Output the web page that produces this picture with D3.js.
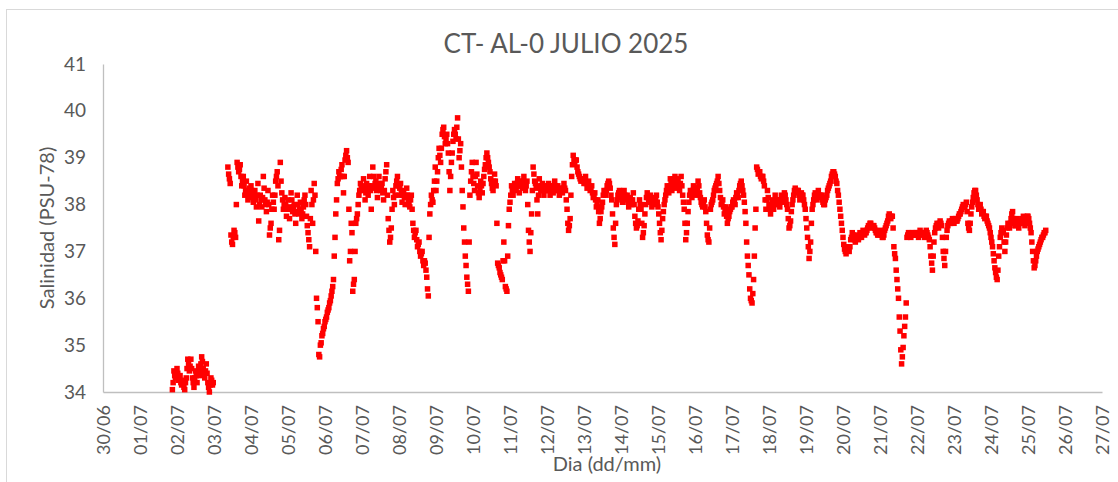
<!DOCTYPE html>
<html>
<head>
<meta charset="utf-8">
<script src="https://cdn.jsdelivr.net/npm/d3@7"></script>
<style>
  body { margin: 0; background: #fff; }
  svg { display: block; }
  text { font-family: Lato, "Open Sans", sans-serif; }
</style>
</head>
<body>
<div id="chart"></div>
<script>
// half-hourly salinity readings (PSU-78), one array per day of July 2025
const jul01 = [34.05, 34.2, 34.45, 34.35, 34.3, 34.4]; // from 21:00
const jul02 = [34.5, 34.4, 34.25, 34.3, 34.35, 34.2, 34.15, 34.25, 34.2, 34.1, 34.05, 34.2, 34.3, 34.5, 34.7, 34.6, 34.45, 34.55, 34.7, 34.5, 34.3, 34.2, 34.1, 34.3,
               34.45, 34.35, 34.2, 34.4, 34.55, 34.45, 34.35, 34.6, 34.75, 34.65, 34.5, 34.4, 34.3, 34.45, 34.6, 34.4, 34.2, 34.1, 34.0, 34.15, 34.3, 34.25, 34.15, 34.2];
const jul03 = [38.8, 38.65, 38.55, 38.45, 37.35, 37.2, 37.15, 37.3, 37.45, 37.4, 37.3, 38.0, 38.9, 38.8, 38.7, 38.75, 38.85, 38.6, 38.4, 38.5, 38.6, 38.4, 38.2, 38.3,
               38.5, 38.3, 38.1, 38.2, 38.35, 38.25]; // from 09:00
const jul04 = [38.4, 38.3, 38.15, 38.05, 38.2, 38.3, 38.1, 37.95, 38.2, 38.45, 37.65, 38.0, 38.2, 38.1, 37.95, 38.15, 38.6, 38.35, 38.1, 38.0, 37.85, 38.05, 38.3, 38.0,
               37.35, 37.5, 37.6, 37.9, 38.2, 38.05, 37.9, 38.2, 38.5, 38.6, 38.7, 38.4, 37.25, 37.45, 38.9, 38.5, 38.25, 38.1, 37.9, 38.0, 38.15, 38.0, 37.75, 37.9];
const jul05 = [38.1, 37.9, 37.7, 37.95, 38.25, 38.1, 37.85, 37.95, 38.0, 37.8, 37.6, 37.85, 38.2, 38.0, 37.8, 37.9, 38.05, 37.85, 37.7, 37.8, 37.95, 38.1, 38.2, 38.0,
               37.75, 37.55, 37.4, 37.25, 37.1, 37.7, 38.3, 38.0, 37.6, 38.1, 38.45, 38.2, 37.0, 36.0, 35.8, 35.5, 34.8, 34.75, 35.0, 35.05, 35.2, 35.25, 35.35, 35.4];
const jul06 = [35.5, 35.55, 35.6, 35.7, 35.75, 35.8, 35.9, 35.95, 36.05, 36.15, 36.25, 36.4, 36.9, 37.3, 37.8, 38.1, 38.45, 38.55, 38.7, 38.6, 38.6, 38.75, 38.85, 38.6,
               38.25, 38.6, 38.95, 39.05, 39.15, 39.0, 38.9, 37.9, 36.8, 37.0, 37.6, 37.4, 36.15, 36.3, 36.4, 37.0, 37.6, 37.7, 37.8, 38.0, 38.2, 38.3, 38.45, 38.35];
const jul07 = [38.3, 38.4, 38.55, 38.35, 38.1, 38.25, 38.45, 38.35, 38.2, 38.4, 38.6, 38.3, 37.9, 38.4, 38.8, 38.6, 38.35, 38.45, 38.5, 38.3, 38.15, 38.35, 38.6, 38.45,
               38.3, 38.4, 38.45, 38.25, 38.1, 38.3, 38.55, 38.7, 38.85, 38.2, 37.7, 37.45, 37.2, 37.3, 37.5, 37.9, 38.3, 38.15, 38.0, 38.2, 38.4, 38.5, 38.6, 38.4];
const jul08 = [38.2, 38.35, 38.45, 38.25, 38.05, 38.2, 38.3, 38.15, 38.0, 38.2, 38.35, 38.2, 38.1, 38.0, 37.95, 38.1, 38.2, 37.9, 37.6, 37.45, 37.3, 37.4, 37.45, 37.25,
               37.1, 37.15, 37.2, 37.0, 36.9, 36.95, 37.0, 36.8, 36.7, 36.8, 36.75, 36.6, 36.45, 36.2, 36.05, 37.3, 37.8, 38.0, 38.2, 38.1, 38.05, 38.3, 38.5, 38.8];
const jul09 = [38.3, 38.5, 38.7, 39.0, 39.2, 39.05, 38.9, 39.2, 39.5, 39.6, 39.65, 39.45, 39.3, 39.4, 39.5, 39.3, 39.1, 38.7, 38.3, 38.6, 38.9, 39.1, 39.35, 39.5,
               39.6, 39.5, 39.4, 39.65, 39.85, 39.4, 39.0, 39.15, 39.3, 38.8, 38.3, 37.95, 37.5, 37.2, 36.9, 36.7, 36.45, 36.3, 36.15, 37.2, 38.2, 38.5, 38.7, 38.9];
const jul10 = [38.6, 38.45, 38.3, 38.6, 38.9, 38.65, 38.4, 38.25, 38.15, 38.3, 38.5, 38.4, 38.25, 38.45, 38.6, 38.75, 38.85, 39.0, 39.1, 39.0, 38.9, 38.8, 38.7, 38.55,
               38.45, 38.35, 38.3, 38.5, 38.65, 38.5, 38.4, 37.6, 36.75, 36.7, 36.65, 36.55, 36.5, 36.45, 36.4, 36.8, 37.2, 36.8, 36.25, 36.2, 36.15, 36.9, 37.55, 37.9];
const jul11 = [38.05, 38.2, 38.4, 38.3, 38.2, 38.35, 38.45, 38.35, 38.3, 38.45, 38.55, 38.4, 38.25, 38.4, 38.5, 38.4, 38.35, 38.5, 38.6, 38.45, 38.3, 38.4, 38.5, 38.0,
               37.45, 37.2, 37.0, 37.4, 37.8, 38.3, 38.8, 38.65, 38.5, 38.45, 38.35, 38.1, 37.8, 38.2, 38.55, 38.4, 38.3, 38.4, 38.45, 38.3, 38.2, 38.3, 38.4, 38.35];
const jul12 = [38.3, 38.4, 38.45, 38.3, 38.2, 38.3, 38.4, 38.3, 38.25, 38.4, 38.5, 38.4, 38.3, 38.35, 38.4, 38.3, 38.2, 38.3, 38.35, 38.3, 38.25, 38.35, 38.45, 38.35,
               38.3, 38.1, 37.9, 37.6, 37.45, 37.55, 37.7, 38.2, 38.6, 38.85, 39.05, 38.95, 38.9, 38.95, 38.95, 38.8, 38.7, 38.65, 38.6, 38.55, 38.5, 38.55, 38.55, 38.5];
const jul13 = [38.45, 38.55, 38.6, 38.45, 38.35, 38.45, 38.5, 38.4, 38.3, 38.35, 38.4, 38.25, 38.15, 38.2, 38.25, 38.1, 37.95, 38.05, 38.1, 37.85, 37.6, 37.7, 37.85, 37.95,
               38.05, 38.2, 38.3, 38.25, 38.2, 38.3, 38.4, 38.45, 38.5, 38.45, 38.35, 38.2, 38.1, 37.8, 37.5, 37.3, 37.15, 37.6, 38.0, 38.1, 38.2, 38.25, 38.3, 38.2];
const jul14 = [38.25, 38.15, 38.05, 38.2, 38.3, 38.2, 38.1, 38.15, 38.2, 38.05, 37.95, 38.05, 38.15, 38.1, 38.0, 38.1, 38.25, 38.0, 37.75, 37.6, 37.5, 37.55, 37.65, 37.9,
               38.1, 38.0, 37.9, 37.6, 37.3, 37.4, 37.55, 37.8, 38.0, 38.15, 38.25, 38.15, 38.05, 38.1, 38.2, 38.1, 37.95, 38.05, 38.15, 38.05, 38.0, 38.1, 38.2, 38.05];
const jul15 = [37.95, 37.8, 37.6, 37.4, 37.25, 37.45, 37.7, 37.85, 38.0, 38.1, 38.2, 38.3, 38.4, 38.3, 38.25, 38.4, 38.55, 38.45, 38.3, 38.4, 38.45, 38.55, 38.6, 38.45,
               38.35, 38.45, 38.55, 38.4, 38.3, 38.45, 38.6, 38.4, 38.2, 38.05, 37.9, 37.6, 37.25, 37.4, 37.6, 37.85, 38.05, 38.2, 38.3, 38.2, 38.15, 38.3, 38.4, 38.35];
const jul16 = [38.3, 38.25, 38.2, 38.35, 38.5, 38.4, 38.25, 38.15, 38.05, 38.0, 37.95, 38.05, 38.1, 37.95, 37.85, 37.6, 37.35, 37.25, 37.2, 37.5, 37.9, 38.0, 38.05, 38.1,
               38.2, 38.3, 38.35, 38.4, 38.45, 38.5, 38.6, 38.45, 38.3, 38.15, 38.0, 38.05, 38.1, 37.95, 37.8, 37.9, 37.95, 37.75, 37.6, 37.7, 37.75, 37.85, 37.9, 37.95];
const jul17 = [37.95, 38.05, 38.1, 38.05, 38.0, 38.15, 38.25, 38.2, 38.15, 38.3, 38.4, 38.45, 38.5, 38.4, 38.3, 38.2, 38.05, 37.85, 37.6, 37.2, 36.9, 36.7, 36.5, 36.2,
               36.0, 35.95, 35.9, 36.1, 36.4, 36.9, 37.5, 37.9, 38.8, 38.75, 38.65, 38.7, 38.7, 38.6, 38.55, 38.6, 38.6, 38.5, 38.4, 38.1, 37.9, 38.1, 38.3, 38.15];
const jul18 = [38.0, 37.9, 37.8, 37.95, 38.1, 38.0, 37.9, 38.05, 38.2, 38.1, 38.0, 38.05, 38.1, 38.0, 37.95, 38.1, 38.2, 38.1, 38.05, 38.15, 38.25, 38.2, 38.1, 38.0,
               37.9, 37.7, 37.5, 37.55, 37.65, 37.85, 38.0, 38.1, 38.2, 38.3, 38.35, 38.3, 38.25, 38.3, 38.3, 38.2, 38.1, 38.2, 38.25, 38.2, 38.2, 38.1, 38.0, 37.9];
const jul19 = [37.7, 37.5, 37.3, 37.1, 36.85, 37.0, 37.2, 37.6, 37.9, 38.0, 38.1, 38.2, 38.25, 38.15, 38.1, 38.2, 38.3, 38.2, 38.15, 38.2, 38.2, 38.1, 38.05, 38.0,
               38.0, 38.1, 38.15, 38.2, 38.3, 38.35, 38.4, 38.45, 38.5, 38.6, 38.65, 38.7, 38.7, 38.65, 38.6, 38.5, 38.45, 38.3, 38.2, 38.05, 37.9, 37.75, 37.6, 37.45];
const jul20 = [37.3, 37.15, 37.05, 37.0, 36.95, 37.05, 37.1, 37.05, 37.0, 37.1, 37.25, 37.3, 37.4, 37.35, 37.3, 37.25, 37.2, 37.3, 37.35, 37.3, 37.25, 37.3, 37.4, 37.35,
               37.3, 37.4, 37.45, 37.4, 37.35, 37.4, 37.4, 37.45, 37.5, 37.55, 37.55, 37.6, 37.6, 37.55, 37.5, 37.55, 37.55, 37.5, 37.45, 37.4, 37.4, 37.35, 37.35, 37.4];
const jul21 = [37.45, 37.4, 37.35, 37.3, 37.3, 37.35, 37.45, 37.5, 37.55, 37.6, 37.65, 37.75, 37.8, 37.75, 37.7, 37.75, 37.75, 37.5, 37.1, 36.95, 36.85, 36.6, 36.4, 36.2,
               36.0, 35.6, 35.3, 34.9, 34.6, 34.75, 34.95, 35.2, 35.4, 35.6, 35.9, 37.3, 37.35, 37.4, 37.4, 37.35, 37.3, 37.35, 37.4, 37.35, 37.35, 37.4, 37.4, 37.35];
const jul22 = [37.4, 37.35, 37.3, 37.4, 37.45, 37.4, 37.35, 37.4, 37.4, 37.35, 37.3, 37.4, 37.45, 37.4, 37.35, 37.3, 37.25, 37.1, 36.9, 36.75, 36.6, 36.9, 37.2, 37.4,
               37.5, 37.55, 37.6, 37.55, 37.5, 37.6, 37.65, 37.6, 37.55, 37.3, 37.0, 36.85, 36.7, 37.0, 37.3, 37.45, 37.55, 37.6, 37.65, 37.6, 37.6, 37.65, 37.7, 37.65];
const jul23 = [37.6, 37.65, 37.7, 37.65, 37.65, 37.7, 37.75, 37.8, 37.8, 37.85, 37.9, 37.95, 38.0, 37.95, 37.95, 38.0, 38.05, 37.85, 37.6, 37.5, 37.45, 37.6, 37.8, 37.95,
               38.05, 38.15, 38.25, 38.3, 38.3, 38.2, 38.1, 38.0, 37.9, 37.95, 38.0, 37.9, 37.8, 37.85, 37.85, 37.75, 37.7, 37.75, 37.75, 37.65, 37.6, 37.55, 37.5, 37.4];
const jul24 = [37.3, 37.2, 37.1, 36.95, 36.8, 36.65, 36.55, 36.45, 36.4, 36.6, 36.9, 37.1, 37.3, 37.4, 37.5, 37.45, 37.4, 37.2, 37.0, 37.2, 37.35, 37.5, 37.6, 37.55,
               37.5, 37.6, 37.7, 37.8, 37.85, 37.7, 37.6, 37.55, 37.55, 37.65, 37.7, 37.6, 37.5, 37.6, 37.65, 37.6, 37.6, 37.7, 37.75, 37.65, 37.55, 37.65, 37.7, 37.75];
const jul25 = [37.75, 37.7, 37.6, 37.5, 37.4, 37.2, 37.0, 36.8, 36.65, 36.7, 36.8, 36.9, 37.0, 37.05, 37.1, 37.15, 37.2, 37.25, 37.3, 37.3, 37.35, 37.4, 37.4, 37.45];

// day of month, first hour, readings (30 min apart)
const days = [
  [1, 21, jul01], [2, 0, jul02], [3, 9, jul03], [4, 0, jul04], [5, 0, jul05],
  [6, 0, jul06], [7, 0, jul07], [8, 0, jul08], [9, 0, jul09], [10, 0, jul10],
  [11, 0, jul11], [12, 0, jul12], [13, 0, jul13], [14, 0, jul14], [15, 0, jul15],
  [16, 0, jul16], [17, 0, jul17], [18, 0, jul18], [19, 0, jul19], [20, 0, jul20],
  [21, 0, jul21], [22, 0, jul22], [23, 0, jul23], [24, 0, jul24], [25, 0, jul25]
];

const yTicks = [34, 35, 36, 37, 38, 39, 40, 41];
const title = "CT- AL-0 JULIO 2025";
const yTitle = "Salinidad (PSU-78)";
const xTitle = "Dia (dd/mm)";

const width = 1118;
const height = 482;
const grey = "#595959";

const points = days.flatMap(([d, h0, vals]) =>
  vals.map((v, i) => ({ t: new Date(2025, 6, d, h0, i * 30), v })));

const svg = d3.select("#chart")
  .append("svg")
  .attr("width", width)
  .attr("height", height);

// chart border
svg.append("rect")
  .attr("x", 6.5).attr("y", 9.5)
  .attr("width", 1120).attr("height", 480)
  .attr("fill", "none")
  .attr("stroke", "#d9d9d9");

const x = d3.scaleTime()
  .domain([new Date(2025, 5, 30), new Date(2025, 6, 27)])
  .range([103, 1102]);

const y = d3.scaleLinear()
  .domain([34, 41])
  .range([392, 64]);

// x axis
const xAxis = svg.append("g")
  .attr("transform", "translate(0,392)")
  .call(d3.axisBottom(x)
    .ticks(d3.timeDay.every(1))
    .tickFormat(d3.timeFormat("%d/%m"))
    .tickSize(0)
    .tickSizeOuter(0));

xAxis.select(".domain").attr("stroke", "#bfbfbf").attr("stroke-width", 1.3);
xAxis.selectAll("text")
  .attr("x", 0).attr("y", 0)
  .attr("dy", "0.35em")
  .attr("transform", "translate(0,13) rotate(-90)")
  .attr("text-anchor", "end")
  .attr("font-size", "18px")
  .attr("font-family", null)
  .attr("fill", grey);

// y axis
const yAxis = svg.append("g")
  .attr("transform", "translate(103,0)")
  .call(d3.axisLeft(y)
    .tickValues(yTicks)
    .tickFormat(d3.format("d"))
    .tickSize(0)
    .tickSizeOuter(0)
    .tickPadding(17));

yAxis.select(".domain").attr("stroke", "#bfbfbf").attr("stroke-width", 1.3);
yAxis.selectAll("text")
  .attr("font-size", "19px")
  .attr("font-family", null)
  .attr("fill", grey);

// titles
svg.append("text")
  .attr("x", 566).attr("y", 53)
  .attr("text-anchor", "middle")
  .attr("font-size", "26px")
  .attr("fill", grey)
  .text(title);

svg.append("text")
  .attr("transform", "translate(47,228) rotate(-90)")
  .attr("text-anchor", "middle")
  .attr("dy", "0.35em")
  .attr("font-size", "20px")
  .attr("fill", grey)
  .text(yTitle);

svg.append("text")
  .attr("x", 607).attr("y", 471)
  .attr("text-anchor", "middle")
  .attr("font-size", "20px")
  .attr("fill", grey)
  .text(xTitle);

// markers
const m = 5.5;
svg.append("g")
  .selectAll("rect")
  .data(points)
  .join("rect")
  .attr("x", d => x(d.t) - m / 2)
  .attr("y", d => y(d.v) - m / 2)
  .attr("width", m)
  .attr("height", m)
  .attr("fill", "#ff0000");
</script>
</body>
</html>
